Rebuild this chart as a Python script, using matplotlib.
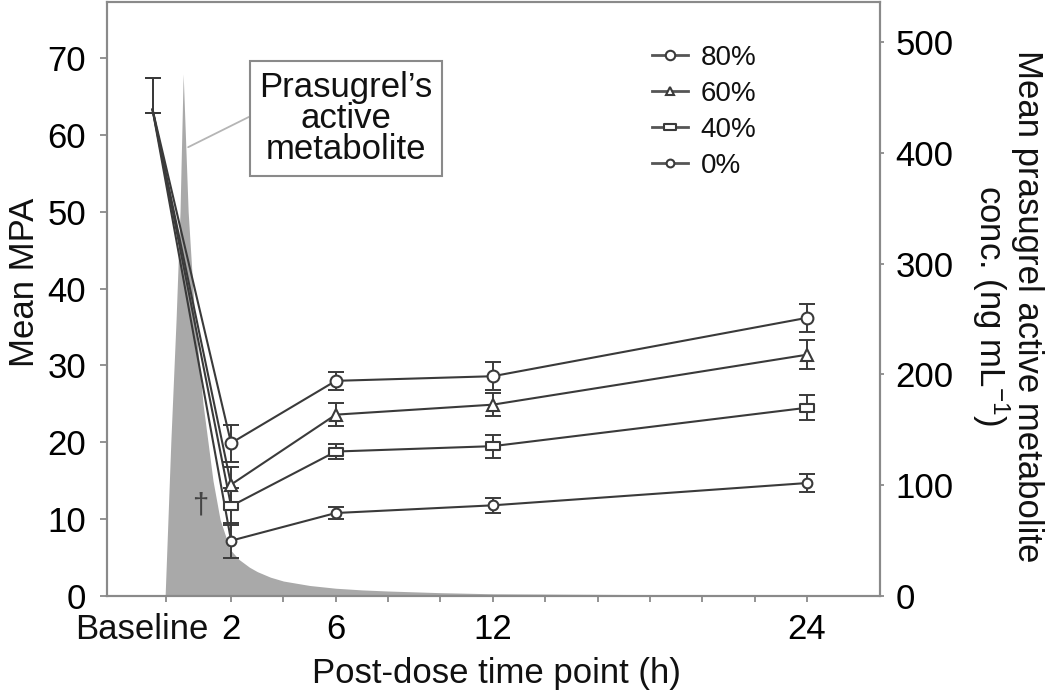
import matplotlib
matplotlib.use("Agg")
import matplotlib.pyplot as plt
import numpy as np
from matplotlib.path import Path

plt.rcParams['font.family'] = ['Liberation Sans', 'DejaVu Sans']
plt.rcParams['mathtext.fontset'] = 'custom'
plt.rcParams['mathtext.rm'] = 'Liberation Sans'
plt.rcParams['mathtext.it'] = 'Liberation Sans'

# ---------------- data ----------------
time_pos = [-1.0, 2, 6, 12, 24]          # baseline plotted left of dose
groups = ['80%', '60%', '40%', '0%']
mpa_80 = [63.3, 19.9, 28.0, 28.6, 36.2]
mpa_60 = [63.3, 14.5, 23.6, 24.9, 31.4]
mpa_40 = [63.3, 11.7, 18.8, 19.5, 24.5]
mpa_0 = [63.3, 7.2, 10.8, 11.8, 14.7]
err_lo_80 = [0.4, 2.4, 1.2, 1.8, 1.8]
err_hi_80 = [4.1, 2.4, 1.2, 1.8, 1.8]
err_lo_60 = [0.4, 2.3, 1.5, 1.5, 1.9]
err_hi_60 = [4.1, 2.3, 1.5, 1.5, 1.9]
err_lo_40 = [0.4, 2.4, 1.0, 1.5, 1.6]
err_hi_40 = [4.1, 2.4, 1.0, 1.5, 1.6]
err_lo_0 = [0.4, 2.3, 0.8, 1.0, 1.2]
err_hi_0 = [4.1, 2.3, 0.8, 1.0, 1.2]

# prasugrel active metabolite concentration profile (ng/mL)
pk_time = [-0.52, -0.3, -0.1, 0.05, 0.17, 0.36, 0.6, 0.93, 1.31, 1.58, 1.96,
           2.3, 2.7, 3.0, 3.5, 4.0, 5.0, 6.0, 7.0, 8.0, 10.0, 12.0, 16.0,
           20.0, 24.0, 26.8]
pk_conc = [0, 140, 250, 347, 471, 347, 255, 173, 104, 69, 42,
           33, 26, 22, 17, 13.5, 9.5, 7, 5.5, 4.5, 3, 2, 1.5,
           1, 0.8, 0.5]

xtick_pos = [-0.5, 2, 4, 6, 8, 10, 12, 14, 16, 18, 20, 22, 24]
xtick_lab = ['', '2', '', '6', '', '', '12', '', '', '', '', '', '24']
ytick_left = [0, 10, 20, 30, 40, 50, 60, 70]
ytick_right = [0, 100, 200, 300, 400, 500]

# ---------------- figure ----------------
W, H = 1050, 699
fig = plt.figure(figsize=(W / 100, H / 100), dpi=100)
ax = fig.add_axes([107 / W, 1 - 596 / H, (880 - 107) / W, (596 - 2) / H])
ax2 = ax.twinx()
ax.set_zorder(ax2.get_zorder() + 1)
ax.patch.set_visible(False)

spine_c = '#8a8a8a'
line_c = '#3a3a3a'

ax2.fill_between(pk_time, pk_conc, 0, color='#a9a9a9', lw=0)

series = [
    (mpa_80, err_lo_80, err_hi_80, 'o', 8.5),
    (mpa_60, err_lo_60, err_hi_60, '^', 8),
    (mpa_40, err_lo_40, err_hi_40, 'rect', 10),
    (mpa_0, err_lo_0, err_hi_0, 'o', 7),
]
rect = Path([(-1, -0.6), (1, -0.6), (1, 0.6), (-1, 0.6), (-1, -0.6)],
            [Path.MOVETO, Path.LINETO, Path.LINETO, Path.LINETO, Path.CLOSEPOLY])
handles = []
for vals, lo, hi, mk, ms in series:
    marker = rect if mk == 'rect' else mk
    ax.errorbar(time_pos, vals, yerr=[lo, hi], fmt='none', ecolor=line_c,
                elinewidth=1.4, capsize=5.5, capthick=1.4, zorder=2)
    ax.plot(time_pos, vals, color=line_c, lw=1.5, zorder=3)
    ax.plot(time_pos[1:], vals[1:], ls='none', marker=marker, ms=ms,
            mfc='white', mec=line_c, mew=1.5, zorder=4)
    h, = ax.plot([], [], color='#555555', lw=2.0, marker=marker, ms=ms * 0.8,
                 mfc='white', mec=line_c, mew=1.5)
    handles.append(h)

ax.set_xlim(-2.74, 26.79)
ax.set_ylim(0, 77.3)
ax2.set_ylim(0, 536)

ax.set_xticks(xtick_pos)
ax.set_xticklabels(xtick_lab)
ax.set_yticks(ytick_left)
ax2.set_yticks(ytick_right)

for a in (ax, ax2):
    for s in a.spines.values():
        s.set_color(spine_c)
        s.set_linewidth(1.5)
ax.tick_params(axis='y', direction='out', length=5, width=1.3, color=spine_c,
               labelsize=25, pad=10)
ax.tick_params(axis='x', direction='out', length=4.5, width=1.3, color=spine_c,
               labelsize=25, pad=8)
ax2.tick_params(axis='y', direction='out', length=3, width=1.3, color=spine_c,
                labelsize=25, pad=8)

# Baseline label
ax.annotate('Baseline', xy=(-1.4, 0), xycoords=('data', 'axes fraction'),
            xytext=(0, -12.5), textcoords='offset points', ha='center', va='top',
            fontsize=25, color='#111111')

# axis labels
fig.text(25 / W, 1 - 282 / H, 'Mean MPA', rotation=90, ha='center', va='center',
         fontsize=25, color='#111111')
fig.text(1007 / W, 1 - 306 / H,
         'Mean prasugrel active metabolite\nconc. (ng mL$^{-1}$)',
         rotation=270, ha='center', va='center', multialignment='center',
         fontsize=25, color='#111111', linespacing=1.0)
fig.text(496 / W, 1 - 674 / H, 'Post-dose time point (h)', ha='center',
         va='center', fontsize=25, color='#111111')

# callout
ax2.annotate("Prasugrel\u2019s\nactive\nmetabolite", xy=(0.36, 405),
             xytext=(6.39, 431), textcoords='data', ha='center', va='center',
             fontsize=25, linespacing=0.92, color='#111111',
             bbox=dict(boxstyle='square,pad=0.28', fc='white', ec=spine_c, lw=1.5),
             arrowprops=dict(arrowstyle='-', color='#b5b5b5', lw=1.3,
                             shrinkA=0, shrinkB=0, relpos=(0.0, 0.57)))

ax.text(0.82, 11.8, '\u2020', ha='center', va='center', fontsize=21, color='#444444')

leg = ax.legend(handles, groups, loc='upper left', bbox_to_anchor=(652 / W, 1 - 45 / H),
                bbox_transform=fig.transFigure, frameon=False, fontsize=20,
                handlelength=1.3, handletextpad=0.45, labelspacing=0.36,
                borderpad=0, borderaxespad=0)
for t in leg.get_texts():
    t.set_color('#111111')

fig.savefig('out.png', dpi=100)
